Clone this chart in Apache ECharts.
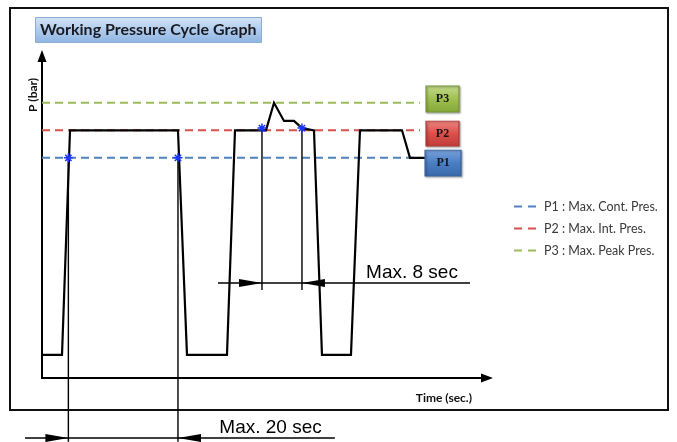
<!DOCTYPE html>
<html><head><meta charset="utf-8">
<script src="https://cdn.jsdelivr.net/npm/echarts@6/dist/echarts.min.js"></script>
<style>html,body{margin:0;padding:0;background:#fff}#c{width:677px;height:442px}</style>
</head><body><div id="c"></div>
<script>
// ---- data (time in s, pressure in chart units) ----
const waveTime     = [0, 3.64, 5.10, 24.75, 26.39, 33.67, 35.13, 40.77, 42.23, 44.05, 45.87, 47.32, 49.51, 50.96, 56.24, 57.88, 65.53, 66.98, 69.7];
const wavePressure = [8.4, 8.4, 90, 90, 8.4, 8.4, 90, 90, 100, 93.4, 93.4, 90.8, 90, 8.4, 8.4, 90, 90, 80, 80];

const legendNames = ['P1 : Max. Cont. Pres.', 'P2 : Max. Int. Pres.', 'P3 : Max. Peak Pres.'];
const limitValues = [80, 90, 100];
const limitEnd = 68.8;

const boxLabels   = ['P1', 'P2', 'P3'];
const boxTime     = [73.0, 72.9, 72.9];
const boxPressure = [78.1, 88.8, 101.4];

const starTime     = [4.8, 24.75, 40.04, 47.32];
const starPressure = [80, 80, 90.8, 90.8];

const refTime   = [4.8, 24.75, 40.04, 47.32];
const refTop    = [80, 80, 90.8, 90.8];
const refBottom = [-23.2, -23.2, 32, 32];

const spanFrom         = [32.03, -3.09];
const spanTo           = [77.9, 53.3];
const spanLevel        = [34.5, -21.8];
const spanTipStart     = [40.04, 4.8];
const spanTipEnd       = [47.32, 24.75];
const spanText         = ['Max. 8 sec', 'Max. 20 sec'];
const spanTextTime     = [67.35, 41.6];
const spanTextPressure = [38.15, -18.2];

const timeMax = 81, pressureMax = 117;

// ---- layout ----
const W = 677, H = 442;
const plot = {left: 42, right: 190, top: 56, bottom: 64};
const pxPerTime = (W - plot.left - plot.right) / timeMax;
const pxPerP = (H - plot.top - plot.bottom) / pressureMax;
// full-canvas overlay grid sharing the same scale, so marks may sit outside the axes area
const fullX = [-plot.left / pxPerTime, (W - plot.left) / pxPerTime];
const fullY = [-plot.bottom / pxPerP, (H - plot.bottom) / pxPerP];

// ---- styles ----
const limitColors = ['#4f81bd', '#d6504c', '#9bbb59'];
const G = (a, b, c) => new echarts.graphic.LinearGradient(0, 0, 0, 1, [
  {offset: 0, color: a}, {offset: 0.5, color: b}, {offset: 1, color: c}]);
const boxFill   = [G('#79a3dc', '#4a7ec4', '#3a69ab'), G('#ee8683', '#dc4f4b', '#c03c39'), G('#c4db8c', '#9fc050', '#85a73a')];
const boxBorder = ['#3a649c', '#b03a37', '#7a973a'];
const boxSize   = [[36, 26], [33, 25], [33, 26]];
const asterisk = 'path://M-0.75,-4.5H0.75V4.5H-0.75Z M-4.5,-0.75H4.5V0.75H-4.5Z M-3.7,-2.6L-2.6,-3.7L3.7,2.6L2.6,3.7Z M2.6,-3.7L3.7,-2.6L-2.6,3.7L-3.7,2.6Z';

const onFull = {xAxisIndex: 1, yAxisIndex: 1, clip: false, silent: true};
const series = [];
limitValues.forEach((v, i) => series.push(Object.assign({
  type: 'line', name: legendNames[i], data: [[0, v], [limitEnd, v]], symbol: 'none',
  color: limitColors[i], lineStyle: {color: limitColors[i], width: 2, type: [8, 5]}, z: 2
}, onFull)));
series.push(Object.assign({
  type: 'line', name: 'wave', data: waveTime.map((t, i) => [t, wavePressure[i]]), symbol: 'none',
  lineStyle: {color: '#000', width: 2.2, join: 'miter'}, z: 4
}, onFull));
refTime.forEach((t, i) => series.push(Object.assign({
  type: 'line', data: [[t, refTop[i]], [t, refBottom[i]]], symbol: 'none',
  lineStyle: {color: '#000', width: 1.4}, z: 3
}, onFull)));
spanFrom.forEach((f, i) => series.push(Object.assign({
  type: 'line', data: [[f, spanLevel[i]], [spanTo[i], spanLevel[i]]], symbol: 'none',
  lineStyle: {color: '#000', width: 1.4}, z: 3
}, onFull)));
series.push(Object.assign({
  type: 'scatter', z: 5, itemStyle: {color: '#000', opacity: 1},
  data: spanTipStart.map((t, i) => ({value: [t, spanLevel[i]], symbol: 'path://M0,0L24,4L0,8Z', symbolSize: [23, 8], symbolOffset: [-11.5, 0]}))
}, onFull));
series.push(Object.assign({
  type: 'scatter', z: 5, itemStyle: {color: '#000', opacity: 1},
  data: spanTipEnd.map((t, i) => ({value: [t, spanLevel[i]], symbol: 'path://M24,0L0,4L24,8Z', symbolSize: [23, 8], symbolOffset: [11.5, 0]}))
}, onFull));
series.push(Object.assign({
  type: 'scatter', z: 6, symbol: asterisk, symbolSize: 9,
  itemStyle: {color: '#1a35f5', opacity: 1}, data: starTime.map((t, i) => [t, starPressure[i]])
}, onFull));
series.push(Object.assign({
  type: 'scatter', z: 6,
  data: boxLabels.map((l, i) => ({
    name: l, value: [boxTime[i], boxPressure[i]], symbol: 'rect', symbolSize: boxSize[i],
    itemStyle: {color: boxFill[i], opacity: 1, borderColor: boxBorder[i], borderWidth: 1, shadowBlur: 2, shadowColor: 'rgba(0,0,0,0.35)', shadowOffsetX: 1, shadowOffsetY: 1}
  })),
  label: {show: true, position: 'inside', formatter: '{b}', fontFamily: 'Liberation Serif', fontWeight: 'bold', fontSize: 12, color: '#151515', opacity: 1}
}, onFull));
series.push(Object.assign({
  type: 'scatter', z: 6, symbol: 'circle', symbolSize: 1,
  itemStyle: {color: 'rgba(0,0,0,0)', opacity: 1},
  data: spanText.map((s, i) => ({name: s, value: [spanTextTime[i], spanTextPressure[i]]})),
  label: {show: true, position: 'inside', formatter: '{b}', fontFamily: 'Liberation Sans', fontSize: 19, color: '#000', opacity: 1, textBorderWidth: 0}
}, onFull));

const axisLineStyle = {show: true, onZero: false, symbol: ['none', 'triangle'], symbolSize: [9, 12], lineStyle: {color: '#000', width: 2}};
const hidden = {show: false, axisLine: {show: false}, axisTick: {show: false}, axisLabel: {show: false}, splitLine: {show: false}};

const chart = echarts.init(document.getElementById('c'));
chart.setOption({
  animation: false,
  backgroundColor: '#fff',
  title: {
    text: 'Working Pressure Cycle Graph', left: 35, top: 17, padding: [4, 5, 4, 5],
    backgroundColor: new echarts.graphic.LinearGradient(0, 0, 0, 1, [{offset: 0, color: '#d3e4f6'}, {offset: 1, color: '#8db4e2'}]),
    borderColor: '#8eaed6', borderWidth: 1,
    textStyle: {fontFamily: 'Lato', fontWeight: 'bold', fontSize: 16, lineHeight: 18, color: '#1a1a22'}
  },
  legend: {
    data: legendNames, orient: 'vertical', left: 509, top: 195, itemWidth: 22, itemHeight: 14, itemGap: 9,
    icon: 'path://M0,0h8v2h-8z M14,0h8v2h-8z', selectedMode: false,
    textStyle: {fontFamily: 'Lato', fontSize: 12.5, color: '#3a3a3a', padding: [0, 0, 0, 3]}
  },
  graphic: [{type: 'rect', shape: {x: 10, y: 8, width: 658, height: 402}, style: {fill: 'none', stroke: '#111', lineWidth: 2}, silent: true, z: -10}],
  grid: [
    Object.assign({containLabel: false, outerBoundsMode: 'none'}, plot),
    {left: 0, right: 0, top: 0, bottom: 0, containLabel: false, outerBoundsMode: 'none'}
  ],
  xAxis: [{
    type: 'value', gridIndex: 0, min: 0, max: timeMax, name: 'Time (sec.)', nameLocation: 'end', nameGap: -15,
    nameTextStyle: {fontFamily: 'Lato', fontWeight: 'bold', fontSize: 12, color: '#111', align: 'right', verticalAlign: 'top', padding: [14, 0, 0, 0]},
    axisLine: axisLineStyle, axisTick: {show: false}, axisLabel: {show: false}, splitLine: {show: false}
  }, Object.assign({type: 'value', gridIndex: 1, min: fullX[0], max: fullX[1]}, hidden)],
  yAxis: [{
    type: 'value', gridIndex: 0, min: 0, max: pressureMax, name: 'P (bar)', nameLocation: 'end', nameGap: -56, nameRotate: 90,
    nameTextStyle: {fontFamily: 'Lato', fontWeight: 'bold', fontSize: 12, color: '#111', align: 'left', verticalAlign: 'bottom', padding: [0, 0, 3, 0]},
    axisLine: axisLineStyle, axisTick: {show: false}, axisLabel: {show: false}, splitLine: {show: false}
  }, Object.assign({type: 'value', gridIndex: 1, min: fullY[0], max: fullY[1]}, hidden)],
  series: series
});
</script></body></html>
